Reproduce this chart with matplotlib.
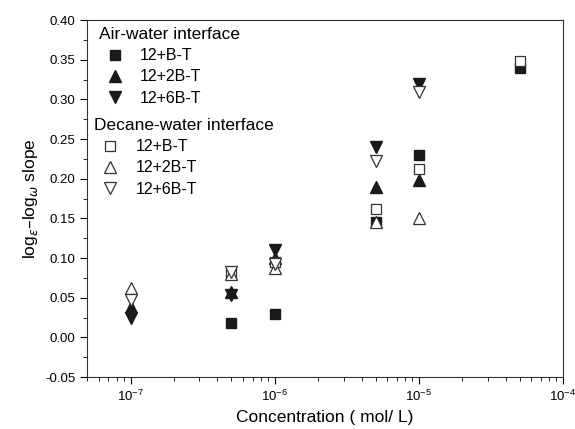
import numpy as np
import matplotlib.pyplot as plt

plt.rcParams['font.family'] = ['Liberation Sans', 'DejaVu Sans']

conc = [1e-7, 5e-7, 1e-6, 5e-6, 1e-5, 5e-5]

# air-water interface
air_bt = [np.nan, 0.018, 0.030, 0.145, 0.230, 0.340]
air_2bt = [0.038, 0.057, 0.100, 0.190, 0.198, np.nan]
air_6bt = [0.024, 0.053, 0.110, 0.240, 0.320, np.nan]

# decane-water interface
dec_bt = [np.nan, 0.081, 0.095, 0.162, 0.212, 0.349]
dec_2bt = [0.062, 0.080, 0.088, 0.145, 0.150, np.nan]
dec_6bt = [0.047, 0.083, 0.093, 0.222, 0.310, np.nan]

labels = ['12+B-T', '12+2B-T', '12+6B-T']

fig, ax = plt.subplots(figsize=(5.75, 4.29), dpi=100)
fig.subplots_adjust(left=0.152, right=0.979, top=0.953, bottom=0.121)

k = '#1a1a1a'
ms = {'s': 7, '^': 9, 'v': 9}
h_air = []
for vals, m in zip([air_bt, air_2bt, air_6bt], ['s', '^', 'v']):
    ln, = ax.plot(conc, vals, ls='none', marker=m, ms=ms[m], color=k, mec=k)
    h_air.append(ln)
h_dec = []
for vals, m in zip([dec_bt, dec_2bt, dec_6bt], ['s', '^', 'v']):
    ln, = ax.plot(conc, vals, ls='none', marker=m, ms=ms[m], mfc='white', mec='#333333', mew=0.9)
    h_dec.append(ln)

ax.set_xscale('log')
ax.set_xlim(5e-8, 1e-4)
ax.set_ylim(-0.05, 0.40)
ax.set_yticks(np.arange(-0.05, 0.401, 0.05))
ax.set_yticks(np.arange(-0.025, 0.40, 0.05), minor=True)
ax.yaxis.set_major_formatter(plt.FuncFormatter(lambda v, p: f'{v:.2f}'))
ax.tick_params(which='both', direction='out', top=False, right=False, labelsize=9.5)
ax.tick_params(which='major', length=5)
ax.tick_params(which='minor', length=3)
for s in ax.spines.values():
    s.set_color('#333333')

ax.set_xlabel('Concentration ( mol/ L)', fontsize=12.5)
ax.set_ylabel('log$_{ε}$–log$_{ω}$ slope', fontsize=12.5)

leg_kw = dict(loc='upper left', frameon=False, fontsize=11.5, title_fontsize=12.5,
              handletextpad=0.6, labelspacing=0.4, borderaxespad=0.3)
leg1 = ax.legend(h_air, labels, title='Air-water interface',
                 bbox_to_anchor=(0.0, 1.013), **leg_kw)
leg1._legend_box.align = 'left'
ax.add_artist(leg1)
leg2 = ax.legend(h_dec, labels, title='Decane-water interface',
                 bbox_to_anchor=(-0.01, 0.758), **leg_kw)
leg2._legend_box.align = 'left'

plt.savefig('out.png', dpi=100)
